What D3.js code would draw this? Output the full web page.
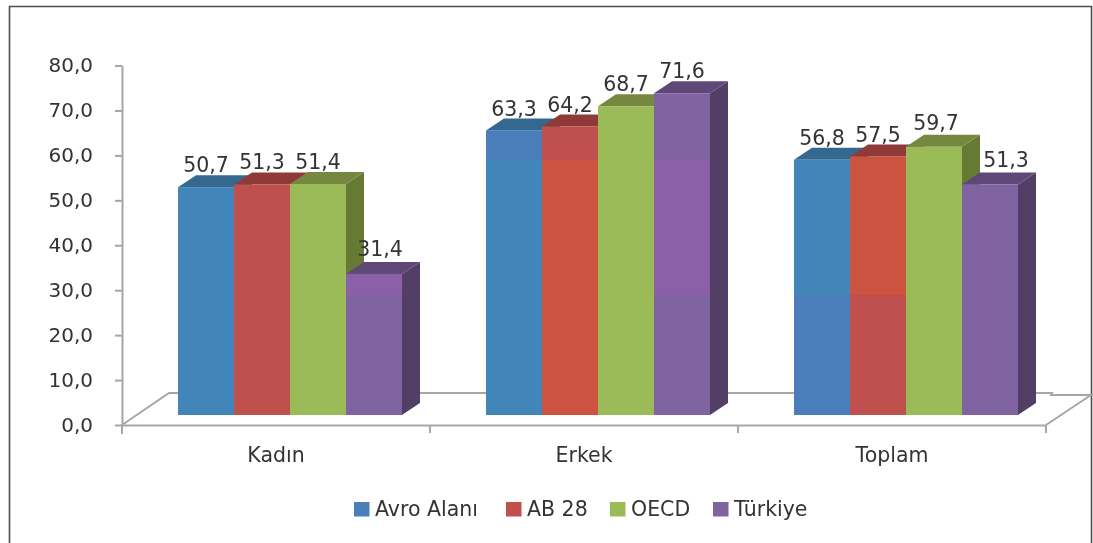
<!DOCTYPE html>
<html><head><meta charset="utf-8">
<script src="https://cdnjs.cloudflare.com/ajax/libs/d3/7.8.5/d3.min.js"></script>
<style>html,body{margin:0;padding:0;background:#fff}svg{display:block;filter:blur(0.5px)}text{font-family:"DejaVu Sans";fill:#333}</style>
</head><body><svg id="c" width="1093" height="543"></svg>
<script>
const categories = ["Kadın","Erkek","Toplam"];
const seriesNames = ["Avro Alanı","AB 28","OECD","Türkiye"];
const avroAlani = [50.7,63.3,56.8];
const ab28 = [51.3,64.2,57.5];
const oecd = [51.4,68.7,59.7];
const turkiye = [31.4,71.6,51.3];
const seriesValues = [avroAlani,ab28,oecd,turkiye];
const yTicks = [0,10,20,30,40,50,60,70,80];

// style tables
const frontCol = ["#4285b9","#c0504d","#9bbb59","#8064a2"];
const legendCol = ["#4a7ebb","#c0504d","#9bbb59","#8064a2"];
const topCol = ["#35688f","#8f3a37","#74893f","#5f4778"];
const sideCol = ["#2f5d80","#7f3330","#667a33","#533f66"];
// tone patches of the source picture: [series, category, fromValue, toValue, colour]
const tonePatches = [
 [0,1,56.8,100,"#4a7ebb"],[0,2,0,26.7,"#4a7ebb"],
 [1,1,0,56.8,"#cc5340"],[1,2,26.7,100,"#cc5340"],
 [3,0,26.7,100,"#8b60a8"],[3,1,26.7,56.8,"#8b60a8"]
];
const nudge = {"3-0":[6,-3],"3-2":[16,-2],"2-2":[2,-2]};

const svg = d3.select("#c");
const depthX = 18, depthY = 12, baseShift = 10;
const y = d3.scaleLinear().domain([0,80]).range([425,65.5]);
const x0 = d3.scaleBand().domain(categories).range([122,1046]);
const x1 = d3.scaleBand().domain(d3.range(4)).range([56,280]);

// frame
svg.append("path").attr("d","M9.5,543V6.5H1091.5V543").attr("fill","none").attr("stroke","#4d4d4d").attr("stroke-width",1.6);

// floor
const grey = "#a6a6a6";
const floorG = svg.append("g").attr("fill","none").attr("stroke",grey).attr("stroke-width",2);
floorG.append("path").attr("d","M122,425L169,393H1052L1051,395H1091L1046,425");

// y axis
const gy = svg.append("g").attr("transform","translate(122,0)")
  .call(d3.axisLeft(y).tickValues(yTicks).tickFormat(d=>d3.format(".1f")(d).replace(".",",")).tickSizeInner(7).tickSizeOuter(0).tickPadding(22));
gy.selectAll("line,path").attr("stroke",grey).attr("stroke-width",2);
gy.selectAll("text").attr("font-size",20).attr("dy","0.3em").style("font-family","'DejaVu Sans'");

// x axis
const gx = svg.append("g").attr("transform","translate(0,425)")
  .call(d3.axisBottom(x0).tickSize(0).tickPadding(22));
gx.select("path").attr("stroke",grey).attr("stroke-width",2);
gx.selectAll("text").attr("font-size",20.5).style("font-family","'DejaVu Sans'");
gx.selectAll(".sep").data(d3.range(4)).enter().append("line").attr("class","sep")
  .attr("x1",i=>x0.step()*i+122).attr("x2",i=>x0.step()*i+122).attr("y1",0).attr("y2",i=>i?8:9)
  .attr("stroke",grey).attr("stroke-width",2);

// bars
const by = v => y(v)-baseShift;
categories.forEach((c,ci)=>{
  seriesValues.forEach((vals,si)=>{
    const v = vals[ci], l = x0(c)+x1(si), r = l+x1.bandwidth(), t = by(v), b = by(0);
    const g = svg.append("g");
    g.append("path").attr("fill",sideCol[si])
      .attr("d",`M${r},${t}L${r+depthX},${t-depthY}V${b-depthY}L${r},${b}Z`);
    g.append("path").attr("fill",topCol[si])
      .attr("d",`M${l},${t}L${l+depthX},${t-depthY}H${r+depthX}L${r},${t}Z`);
    g.append("rect").attr("x",l).attr("y",t).attr("width",r-l).attr("height",b-t).attr("fill",frontCol[si]);
    tonePatches.filter(p=>p[0]===si&&p[1]===ci).forEach(p=>{
      const hi = Math.min(p[3],v);
      g.append("rect").attr("x",l).attr("y",by(hi)).attr("width",r-l).attr("height",by(p[2])-by(hi)).attr("fill",p[4]);
    });
  });
});
// value labels
categories.forEach((c,ci)=>{
  seriesValues.forEach((vals,si)=>{
    const n = nudge[si+"-"+ci]||[0,0];
    svg.append("text").attr("x",x0(c)+x1(si)+x1.bandwidth()/2+n[0]).attr("y",by(vals[ci])-15+n[1])
      .attr("text-anchor","middle").attr("font-size",20.5).text(d3.format(".1f")(vals[ci]).replace(".",","));
  });
});

// legend
const legendX = d3.scaleOrdinal().domain(seriesNames).range([354,506,610,713]);
seriesNames.forEach((s,i)=>{
  svg.append("rect").attr("x",legendX(s)).attr("y",502).attr("width",15.5).attr("height",14.5).attr("fill",legendCol[i]);
  svg.append("text").attr("x",legendX(s)+21).attr("y",516).attr("font-size",20.5).text(s);
});
</script></body></html>
